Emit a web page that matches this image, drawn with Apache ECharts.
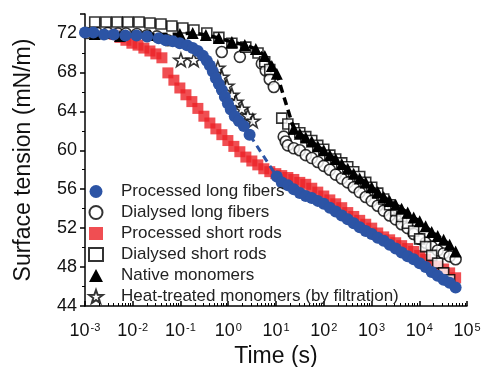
<!DOCTYPE html>
<html>
<head>
<meta charset="utf-8">
<script src="https://cdn.jsdelivr.net/npm/echarts@6/dist/echarts.min.js"></script>
<style>
  html, body { margin: 0; background: #fff; }
  #chart { width: 481px; height: 367px; }
</style>
</head>
<body>
<div id="chart"></div>
<script>
// surface tension vs time (log), six samples

// shared time grid of the long-time (dense) part, s
const denseTime = [13.2, 17.7, 23.6, 31.5, 42, 56.1, 74.9, 100, 134, 178, 238, 318, 424, 566, 757,
  1010, 1350, 1800, 2400, 3210, 4280, 5720, 7640, 10200, 13600, 18200, 24300, 32400, 43300, 57800]

// Processed long fibers
const blueTime = [0.001, 0.0015, 0.0025, 0.004, 0.007, 0.012, 0.02, 0.035, 0.049, 0.069, 0.097, 0.137,
  0.18, 0.23, 0.294, 0.356, 0.412, 0.476, 0.551, 0.636, 0.735, 0.849, 0.982, 1.13, 1.37, 1.67, 2.12, 2.8, 10.4]
const blueVal = [72.1, 72.1, 71.9, 71.9, 71.8, 71.8, 71.7, 71.5, 71.3, 71.2, 71.0, 70.8,
  70.5, 70.2, 69.7, 69.2, 68.7, 68.1, 67.4, 66.8, 66.2, 65.5, 64.8, 64.2, 63.5, 63.0, 62.5, 61.6, 57.3]
const blueDense = [56.7, 56.4, 56.0, 55.6, 55.3, 55.1, 54.8, 54.5, 54.1, 53.7, 53.3, 52.9, 52.5, 52.1, 51.7,
  51.4, 51.0, 50.7, 50.3, 49.9, 49.5, 49.1, 48.8, 48.4, 48.0, 47.5, 47.1, 46.7, 46.4, 45.9]

// Dialysed long fibers
const circTime = [0.0011, 0.0018, 0.003, 0.0049, 0.0072, 0.0122, 0.0198, 0.032, 0.054,
  0.73, 1.75, 5.05, 6.1, 7.4, 9.0, 14.5, 16]
const circVal = [72.05, 72.05, 72.05, 72.0, 72.0, 71.95, 71.8, 71.7, 71.3,
  70.1, 69.6, 68.9, 68.2, 67.3, 66.5, 61.4, 60.9]
const circDense = [null, 60.5, 60.2, 60.0, 59.5, 59.2, 58.8, 58.4, 58.0, 57.5, 57.1, 56.7, 56.2, 55.7, 55.2,
  54.8, 54.3, 53.8, 53.3, 52.9, 52.4, 52.0, 51.4, 50.9, 50.5, 50.1, 49.7, 49.4, 49.1, 48.8]

// Processed short rods
const redTime = [0.0042, 0.0054, 0.0072, 0.0096, 0.0129, 0.0171, 0.0229, 0.0305, 0.0408,
  0.0544, 0.0727, 0.097, 0.13, 0.173, 0.231, 0.309, 0.412, 0.551, 0.735, 0.982, 1.31, 1.75, 2.34,
  3.12, 4.16, 5.56, 7.42, 9.91]
const redVal = [71.9, 71.6, 71.3, 71.0, 70.8, 70.5, 70.2, 69.9, 69.5,
  67.95, 67.2, 66.4, 65.7, 65.0, 64.3, 63.5, 62.8, 62.2, 61.6, 61.0, 60.4, 59.85, 59.3,
  58.9, 58.5, 58.1, 57.8, 57.6]
const redDense = [57.4, 57.2, 57.0, 56.7, 56.5, 56.1, 55.7, 55.3, 54.9, 54.5, 54.1, 53.6, 53.2, 52.8, 52.4,
  52.0, 51.5, 51.1, 50.8, 50.5, 50.2, 49.9, 49.6, 49.2, 48.8, 48.4, 48.1, 47.8, 47.4, 46.9]

// Dialysed short rods
const sqTime = [0.0016, 0.00275, 0.0047, 0.0079, 0.0135, 0.0229, 0.039, 0.066, 0.112, 0.191,
  0.356, 0.636, 1.19, 2.33, 4.2, 5.8, 7.4]
const sqVal = [73.18, 73.18, 73.18, 73.18, 73.18, 73.08, 72.97, 72.77, 72.56, 72.36,
  72.05, 71.6, 71.0, 70.6, 70.0, 69.1, 68.3]
const sqDense = [63.3, 62.7, 62.2, 61.8, 61.4, 61.0, 60.5, 60.1, 59.5, 59.1, 58.7, 58.3, 57.8, 57.3, 56.7,
  56.2, 55.6, 55.0, 54.4, 53.8, 53.2, 52.5, 51.7, 50.9, 50.1, 49.2, 48.4, 47.4, 46.7, null]

// Native monomers
const triTime = [0.0016, 0.0054, 0.0229, 0.097, 0.18, 0.34, 0.635, 1.19, 2.22, 3.78, 5.83, 8.17, 10.4]
const triVal = [71.95, 71.74, 71.85, 71.95, 72.05, 71.85, 71.54, 71.13, 70.82, 70.41, 69.69, 68.67, 67.85]
const triDense = [null, null, 62.2, 61.7, 61.3, 60.9, 60.4, 60.0, 59.5, 59.1, 58.6, 58.1, 57.6, 57.1, 56.7,
  56.2, 55.7, 55.2, 54.8, 54.4, 54.0, 53.6, 53.1, 52.7, 52.2, 51.6, 51.2, 50.8, 50.3, 49.6]

// Heat-treated monomers (by filtration)
const starTime = [0.102, 0.19, 0.605, 0.734, 0.935, 1.19, 1.44, 1.93, 2.57, 3.27]
const starVal = [69.28, 69.28, 68.46, 67.54, 66.62, 65.69, 64.97, 64.26, 63.54, 63.03]

const yTicks = [44, 48, 52, 56, 60, 64, 68, 72]

const BLUE = '#2c54a5'
const RED = '#ec2227'
const FONT = '"Liberation Sans", Arial, Helvetica, sans-serif'
const STAR = 'path://M0,-10L2.35,-3.24L9.51,-3.09L3.8,1.24L5.88,8.09L0,4L-5.88,8.09L-3.8,1.24L-9.51,-3.09L-2.35,-3.24Z'

function pairs(t, v, dense) {
  const out = t.map((x, i) => [x, v[i]])
  if (dense) dense.forEach((y, i) => { if (y !== null) out.push([denseTime[i], y]) })
  return out
}

const hollow = { color: '#fff', borderColor: '#000', borderWidth: 1.6 }

const chart = echarts.init(document.getElementById('chart'))
chart.setOption({
  animation: false,
  textStyle: { fontFamily: FONT },
  grid: { left: 85, right: 14, top: 14, bottom: 61, outerBoundsMode: 'none' },
  legend: {
    orient: 'vertical',
    left: 83,
    top: 178,
    itemWidth: 14,
    itemHeight: 13,
    itemGap: 4,
    textStyle: { fontSize: 17, color: '#222', padding: [0, 0, 0, 13] },
    data: [
      { name: 'Processed long fibers', icon: 'circle' },
      { name: 'Dialysed long fibers', icon: 'circle' },
      { name: 'Processed short rods', icon: 'rect' },
      { name: 'Dialysed short rods', icon: 'rect' },
      { name: 'Native monomers', icon: 'triangle' },
      { name: 'Heat-treated monomers (by filtration)', icon: STAR },
    ],
  },
  xAxis: {
    type: 'log',
    logBase: 10,
    min: 0.001,
    max: 100000,
    interval: 1,
    name: 'Time (s)',
    nameLocation: 'middle',
    nameGap: 38,
    nameTextStyle: { fontSize: 23, color: '#111' },
    axisLine: { lineStyle: { color: '#000', width: 1.5 } },
    axisTick: { inside: true, length: 5, lineStyle: { color: '#000', width: 1.5 } },
    minorTick: { show: true, splitNumber: 9, length: 3, lineStyle: { color: '#000', width: 1 } },
    splitLine: { show: false },
    axisLabel: {
      margin: 16,
      color: '#111',
      formatter: v => '{b|10}{s|' + Math.round(Math.log10(v)) + '}',
      rich: {
        b: { fontSize: 18, color: '#111', fontFamily: FONT },
        s: { fontSize: 11, color: '#111', fontFamily: FONT, verticalAlign: 'top', padding: [0, 0, 8, 1] },
      },
    },
  },
  yAxis: {
    type: 'value',
    min: 44,
    max: 74,
    interval: 4,
    name: 'Surface tension (mN/m)',
    nameLocation: 'middle',
    nameGap: 50,
    nameTextStyle: { fontSize: 23, color: '#111' },
    axisLine: { show: true, lineStyle: { color: '#000', width: 1.5 } },
    axisTick: { show: true, length: 5, lineStyle: { color: '#000', width: 1.5 } },
    minorTick: { show: true, splitNumber: 2, length: 3, lineStyle: { color: '#000', width: 1 } },
    splitLine: { show: false },
    axisLabel: {
      fontSize: 18,
      color: '#111',
      margin: 8,
      formatter: v => (yTicks.includes(v) ? String(v) : ''),
    },
  },
  series: [
    {
      name: 'Native monomers',
      type: 'line',
      data: pairs(triTime, triVal, triDense),
      symbol: 'triangle',
      symbolSize: 12,
      itemStyle: { color: '#000' },
      lineStyle: { color: '#000', width: 3.5, type: [8, 5] },
    },
    {
      name: 'Processed long fibers',
      type: 'line',
      data: pairs(blueTime, blueVal, blueDense),
      symbol: 'circle',
      symbolSize: 12,
      itemStyle: { color: BLUE },
      lineStyle: { color: BLUE, width: 3, type: [7, 5] },
    },
    {
      name: 'Processed short rods',
      type: 'scatter',
      data: pairs(redTime, redVal, redDense),
      symbol: 'rect',
      symbolSize: 11,
      itemStyle: { color: RED },
    },
    {
      name: 'Dialysed long fibers',
      type: 'scatter',
      data: pairs(circTime, circVal, circDense),
      symbol: 'circle',
      symbolSize: 11,
      itemStyle: hollow,
    },
    {
      name: 'Dialysed short rods',
      type: 'scatter',
      data: pairs(sqTime, sqVal, sqDense),
      symbol: 'rect',
      symbolSize: 10,
      itemStyle: hollow,
    },
    {
      name: 'Heat-treated monomers (by filtration)',
      type: 'scatter',
      data: pairs(starTime, starVal),
      symbol: STAR,
      symbolKeepAspect: true,
      symbolSize: 14,
      itemStyle: hollow,
    },
  ],
})
</script>
</body>
</html>
